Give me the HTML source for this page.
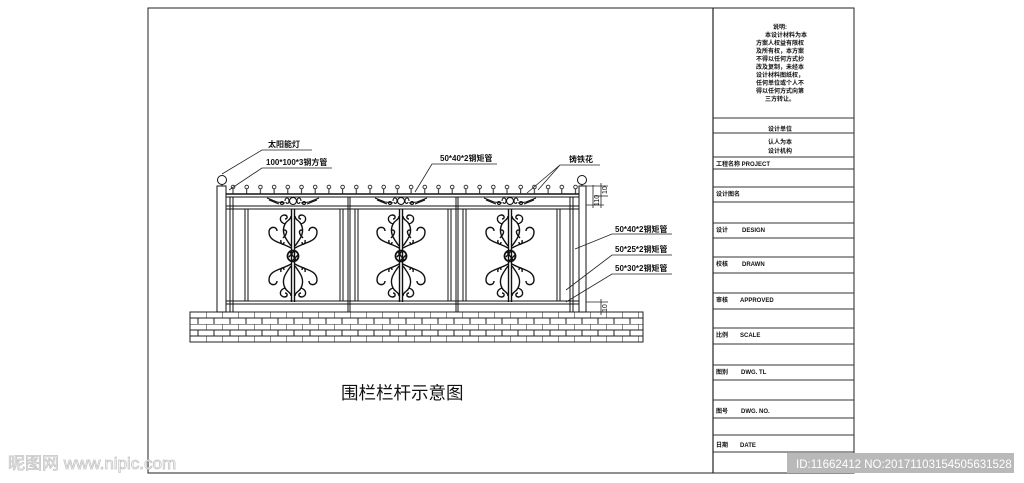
<!DOCTYPE html>
<html><head><meta charset="utf-8"><style>
html,body{margin:0;padding:0;background:#fff;}
svg{display:block}
text{font-family:"Liberation Sans","Noto Sans CJK SC",sans-serif;fill:#111}
.b{font-weight:bold}
</style></head><body>
<svg width="1024" height="483" viewBox="0 0 1024 483" xmlns="http://www.w3.org/2000/svg">
<defs>
<pattern id="brick" x="190" y="312" width="16" height="12" patternUnits="userSpaceOnUse">
<path d="M0 0H16M0 6H16M0 0V6M8 6V12" stroke="#222" stroke-width="1" fill="none"/>
</pattern>
<pattern id="spike" x="226" y="180" width="13.7" height="16" patternUnits="userSpaceOnUse">
<circle cx="7" cy="7" r="1.8" fill="none" stroke="#222" stroke-width="0.9"/>
<line x1="7" y1="9" x2="7" y2="15" stroke="#222" stroke-width="1"/>
</pattern>
<g id="orn" fill="none" stroke="#111" stroke-width="1.4">
<line x1="-1.5" y1="-47" x2="-1.5" y2="46"/><line x1="1.5" y1="-47" x2="1.5" y2="46"/>
<circle cx="0" cy="0" r="5.5" stroke-width="1.8"/>
<path d="M-3 -4 L3 4 M-4 1 L1 -5 M-1 5 L5 -1"/>
<path d="M-2 -8 C-12 -14 -24 -14 -24 -24 C-24 -30 -16 -30 -16 -25"/>
<path d="M2 -8 C12 -14 24 -14 24 -24 C24 -30 16 -30 16 -25"/>
<path d="M-2 -10 C-8 -18 -12 -24 -8 -32 C-6 -36 -2 -36 -2 -40"/>
<path d="M2 -10 C8 -18 12 -24 8 -32 C6 -36 2 -36 2 -40"/>
<path d="M-8 -32 C-14 -34 -14 -40 -9 -41 C-5 -41 -5 -37 -8 -37"/>
<path d="M8 -32 C14 -34 14 -40 9 -41 C5 -41 5 -37 8 -37"/>
<path d="M-10 -18 C-6 -22 -5 -26 -9 -26"/><path d="M10 -18 C6 -22 5 -26 9 -26"/>
<path d="M-12 -16 C-13 -12 -9 -10 -9 -14"/><path d="M12 -16 C13 -12 9 -10 9 -14"/>
<path d="M-2 8 C-12 14 -24 14 -24 24 C-24 30 -16 30 -16 25"/>
<path d="M2 8 C12 14 24 14 24 24 C24 30 16 30 16 25"/>
<path d="M-2 10 C-8 18 -12 24 -8 32 C-6 36 -2 36 -2 40"/>
<path d="M2 10 C8 18 12 24 8 32 C6 36 2 36 2 40"/>
<path d="M-8 32 C-14 34 -14 40 -9 41 C-5 41 -5 37 -8 37"/>
<path d="M8 32 C14 34 14 40 9 41 C5 41 5 37 8 37"/>
<path d="M-12 16 C-13 12 -9 10 -9 14"/><path d="M12 16 C13 12 9 10 9 14"/>
</g>
<g id="top" fill="none" stroke="#111" stroke-width="1.1">
<path d="M-26 -3 L-16 1 L-8 2 M-24 -1 L-14 3"/>
<path d="M26 -3 L16 1 L8 2 M24 -1 L14 3"/>
<circle cx="-11" cy="2" r="1.5"/><circle cx="11" cy="2" r="1.5"/>
<circle cx="0" cy="0" r="3.5"/>
<path d="M-8 0 C-8 -4 -4 -4 -4 0 C-4 3 -7 3 -7 1 M8 0 C8 -4 4 -4 4 0 C4 3 7 3 7 1"/>
</g>
</defs>

<rect x="148" y="8" width="706" height="465" fill="none" stroke="#222" stroke-width="1"/>
<line x1="713" y1="8" x2="713" y2="473" stroke="#222" stroke-width="1.2"/>

<g stroke="#333" stroke-width="1">
<line x1="713" y1="118" x2="854" y2="118"/><line x1="713" y1="133" x2="854" y2="133"/>
<line x1="713" y1="157" x2="854" y2="157"/><line x1="713" y1="169" x2="854" y2="169"/>
<line x1="713" y1="187" x2="854" y2="187"/><line x1="713" y1="202" x2="854" y2="202"/>
<line x1="713" y1="223" x2="854" y2="223"/><line x1="713" y1="238" x2="854" y2="238"/>
<line x1="713" y1="257" x2="854" y2="257"/><line x1="713" y1="273" x2="854" y2="273"/>
<line x1="713" y1="293" x2="854" y2="293"/><line x1="713" y1="309" x2="854" y2="309"/>
<line x1="713" y1="328" x2="854" y2="328"/><line x1="713" y1="344" x2="854" y2="344"/>
<line x1="713" y1="365" x2="854" y2="365"/><line x1="713" y1="380" x2="854" y2="380"/>
<line x1="713" y1="400" x2="854" y2="400"/><line x1="713" y1="418" x2="854" y2="418"/>
<line x1="713" y1="435" x2="854" y2="435"/><line x1="713" y1="452" x2="854" y2="452"/>
</g>
<g font-size="6" text-anchor="middle" class="b">
<text x="780" y="29">说明:</text>
<text x="786" y="37">本设计材料为本</text>
<text x="780" y="45">方案人权益有限权</text>
<text x="780" y="53">及所有权，本方案</text>
<text x="780" y="61">不得以任何方式抄</text>
<text x="780" y="69">改及复制，未经本</text>
<text x="780" y="77">设计材料图纸权，</text>
<text x="780" y="85">任何单位或个人不</text>
<text x="780" y="93">得以任何方式向第</text>
<text x="780" y="101">三方转让。</text>
<text x="780" y="131">设计单位</text>
<text x="780" y="144">认人为本</text>
<text x="780" y="153">设计机构</text>
</g>
<g font-size="6" class="b">
<text x="716" y="166">工程名称 PROJECT</text>
<text x="716" y="196">设计图名</text>
<text x="716" y="232">设计</text><text x="742" y="232">DESIGN</text>
<text x="716" y="266">校核</text><text x="742" y="266">DRAWN</text>
<text x="716" y="302">审核</text><text x="740" y="302">APPROVED</text>
<text x="716" y="337">比例</text><text x="740" y="337">SCALE</text>
<text x="716" y="374">图别</text><text x="741" y="374">DWG. TL</text>
<text x="716" y="413">图号</text><text x="741" y="413">DWG. NO.</text>
<text x="716" y="447">日期</text><text x="740" y="447">DATE</text>
</g>

<rect x="190" y="312" width="453" height="30" fill="url(#brick)" stroke="#222" stroke-width="1"/>
<line x1="190" y1="336" x2="643" y2="336" stroke="#222"/>

<g fill="none" stroke="#111" stroke-width="1">
<rect x="217" y="186" width="9" height="126"/>
<rect x="579" y="186" width="7" height="126"/>
<circle cx="222" cy="180" r="4.5"/><line x1="222" y1="184.5" x2="222" y2="186"/>
<circle cx="582" cy="180" r="4.5"/><line x1="582" y1="184.5" x2="582" y2="186"/>
<line x1="226" y1="194" x2="579" y2="194" stroke-width="1.4"/>
<line x1="226" y1="197" x2="579" y2="197"/>
<line x1="226" y1="206" x2="579" y2="206"/>
<line x1="226" y1="209" x2="579" y2="209"/>
<line x1="226" y1="301" x2="579" y2="301"/>
<line x1="226" y1="304" x2="579" y2="304"/>
<line x1="230" y1="197" x2="230" y2="312"/><line x1="233" y1="197" x2="233" y2="312"/>
<line x1="570" y1="197" x2="570" y2="312"/><line x1="573" y1="197" x2="573" y2="312"/>
<line x1="245" y1="209" x2="245" y2="301"/><line x1="248" y1="209" x2="248" y2="301"/>
<line x1="340" y1="209" x2="340" y2="301"/><line x1="343" y1="209" x2="343" y2="301"/>
<line x1="348" y1="197" x2="348" y2="312"/><line x1="350" y1="197" x2="350" y2="312"/>
<line x1="355" y1="209" x2="355" y2="301"/><line x1="358" y1="209" x2="358" y2="301"/>
<line x1="448" y1="209" x2="448" y2="301"/><line x1="451" y1="209" x2="451" y2="301"/>
<line x1="456" y1="197" x2="456" y2="312"/><line x1="458" y1="197" x2="458" y2="312"/>
<line x1="463" y1="209" x2="463" y2="301"/><line x1="466" y1="209" x2="466" y2="301"/>
<line x1="557" y1="209" x2="557" y2="301"/><line x1="560" y1="209" x2="560" y2="301"/>
</g>
<rect x="226" y="180" width="352" height="14" fill="url(#spike)"/>
<use href="#orn" x="293" y="256"/>
<use href="#orn" x="401" y="256"/>
<use href="#orn" x="510" y="256"/>
<use href="#top" x="293" y="201"/>
<use href="#top" x="401" y="201"/>
<use href="#top" x="510" y="201"/>

<g stroke="#222" stroke-width="0.8" fill="none">
<line x1="586" y1="186" x2="608" y2="186"/><line x1="594" y1="196" x2="608" y2="196"/>
<line x1="586" y1="205" x2="604" y2="205"/>
<line x1="601" y1="183" x2="601" y2="208"/><line x1="593" y1="185" x2="593" y2="208"/>
<line x1="586" y1="302" x2="608" y2="302"/><line x1="586" y1="312" x2="608" y2="312"/>
<line x1="601" y1="299" x2="601" y2="315"/>
</g>
<g font-size="7">
<text transform="translate(607,194) rotate(-90)">10</text>
<text transform="translate(599,206) rotate(-90)">110</text>
<text transform="translate(607,312) rotate(-90)">10</text>
</g>

<g stroke="#222" stroke-width="0.8" fill="none">
<path d="M222 174 L262 150 H312"/>
<path d="M229 190 L262 168 H332"/>
<path d="M415 192 L432 164 H497"/>
<path d="M527 193 L560 165 H600 M560 165 L538 190"/>
<path d="M575 249 L612 234 H672"/>
<path d="M566 290 L612 255 H672"/>
<path d="M566 302 L612 274 H672"/>
</g>
<g font-size="8" class="b">
<text x="268" y="147">太阳能灯</text>
<text x="266" y="165">100*100*3钢方管</text>
<text x="440" y="161">50*40*2钢矩管</text>
<text x="569" y="162">铸铁花</text>
<text x="615" y="232">50*40*2钢矩管</text>
<text x="615" y="252">50*25*2钢矩管</text>
<text x="615" y="271">50*30*2钢矩管</text>
</g>
<text x="341" y="399" font-size="17.5">围栏栏杆示意图</text>

<text x="8" y="469" font-size="17" stroke="#c4c4c4" stroke-width="0.8" style="fill:#fff">昵图网 www.nipic.com</text>
<rect x="787" y="453" width="227" height="20" fill="#b9b9b9"/>
<text x="796" y="468" font-size="11.5" style="fill:#fff">ID:11662412 NO:20171103154505631528</text>
</svg>
</body></html>
